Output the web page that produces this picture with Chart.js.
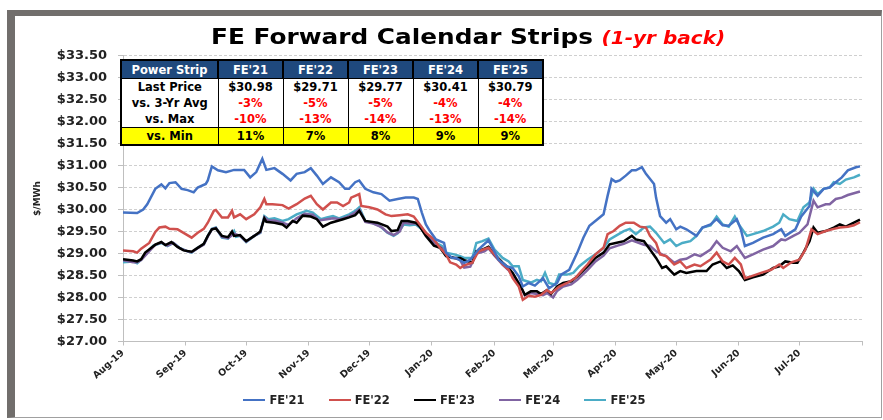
<!DOCTYPE html>
<html>
<head>
<meta charset="utf-8">
<script src="https://cdn.jsdelivr.net/npm/chart.js@4.4.0/dist/chart.umd.min.js"></script>
<style>
  html, body { margin: 0; padding: 0; background: #fff; }
  body { width: 883px; height: 420px; position: relative; overflow: hidden; font-family: "DejaVu Sans", sans-serif; }
  #frame { position: absolute; left: 7px; top: 10px; width: 875px; height: 408px; box-sizing: border-box;
           border-top: 6px solid #716e6c; border-left: 8px solid #716e6c; border-right: 1px solid #a0a0a0; border-bottom: 1px solid #a0a0a0; }
  #chart { position: absolute; left: 15px; top: 16px; }
  #title { position: absolute; left: 211px; top: 25px; white-space: nowrap; transform-origin: left top; transform: scaleX(1.18);
           font: bold 21px "DejaVu Sans", sans-serif; color: #000; }
  #title span { color: #ff0000; font-style: italic; font-size: 17px; }
  #strips { position: absolute; left: 120px; top: 59px; border-collapse: collapse; table-layout: fixed; border: 2px solid #000;
            font: bold 11.5px "DejaVu Sans", sans-serif; background: #fff; }
  #strips td, #strips th { padding: 0; height: 16px; text-align: center; border-left: 1px solid #000; white-space: nowrap; }
  #strips th { background: #1f497d; color: #fff; border-left: 2px solid #000; border-bottom: 1px solid #000; height: 17px; }
  #strips td.neg { color: #ff0000; }
  #strips tr.min td { background: #ffff00; border-top: 1px solid #000; }
  #legend { position: absolute; left: 0; width: 889px; top: 393px; display: flex; justify-content: center;
            font: bold 11.5px "DejaVu Sans", sans-serif; color: #222; }
  #legend .item { display: flex; align-items: center; margin: 0 12px; }
  #legend .swatch { width: 22px; height: 2.5px; margin-right: 4px; }
</style>
</head>
<body>
<div id="frame"></div>
<canvas id="chart" width="866" height="401"></canvas>
<div id="title">FE Forward Calendar Strips <span>(1-yr back)</span></div>
<table id="strips"></table>
<div id="legend"></div>
<script>
// x = days since 1-Aug-2019
const monthStarts = [0, 31, 61, 92, 122, 153, 184, 213, 244, 274, 305, 335, 366];
const monthLabels = ['Aug-19', 'Sep-19', 'Oct-19', 'Nov-19', 'Dec-19', 'Jan-20', 'Feb-20', 'Mar-20', 'Apr-20', 'May-20', 'Jun-20', 'Jul-20', ''];

const seriesNames = ["FE'21", "FE'22", "FE'23", "FE'24", "FE'25"];
const seriesColors = ['#4472c4', '#d0504d', '#000000', '#8064a2', '#4bacc6'];

// table values
const lastPrice = [30.98, 29.71, 29.77, 30.41, 30.79];
const vs3YrAvg = [-3, -5, -5, -4, -4];
const vsMax = [-10, -13, -14, -13, -14];
const vsMin = [11, 7, 8, 9, 9];

const fe21 = [[0,29.93],[7,29.92],[10,30.0],[12,30.12],[16,30.47],[19,30.57],[21,30.48],[23,30.6],[26,30.62],[29,30.47],[32,30.44],[35,30.39],[37,30.5],[41,30.58],[42,30.66],[44,30.98],[47,30.89],[51,30.85],[55,30.9],[60,30.9],[63,30.73],[66,30.85],[69,31.15],[71,30.9],[75,30.94],[79,30.81],[83,30.66],[86,30.81],[90,30.85],[93,30.94],[96,30.77],[99,30.58],[103,30.73],[107,30.62],[110,30.47],[112,30.47],[115,30.62],[117,30.66],[120,30.47],[124,30.39],[128,30.35],[132,30.2],[136,30.24],[140,30.27],[144,30.27],[146,30.24],[148,29.93],[150,29.66],[152,29.51],[155,29.32],[159,29.24],[160,29.02],[163,28.9],[165,28.9],[169,28.79],[172,28.86],[176,29.09],[181,29.3],[183,29.13],[186,28.86],[190,28.71],[193,28.67],[196,28.48],[198,28.25],[201,28.33],[204,28.27],[208,28.44],[211,28.21],[215,28.33],[217,28.52],[221,28.63],[225,29.02],[228,29.36],[231,29.63],[235,29.78],[238,29.89],[240,30.31],[242,30.69],[244,30.63],[246,30.66],[249,30.77],[252,30.89],[254,30.89],[257,30.96],[259,30.81],[263,30.58],[264,30.27],[266,29.85],[269,29.7],[271,29.78],[274,29.55],[276,29.61],[279,29.55],[284,29.4],[287,29.59],[291,29.66],[294,29.78],[297,29.64],[300,29.63],[304,29.78],[306,29.55],[308,29.17],[312,29.24],[317,29.36],[322,29.44],[326,29.55],[328,29.4],[333,29.55],[336,29.85],[340,30.08],[341,30.47],[344,30.31],[347,30.47],[350,30.5],[353,30.62],[356,30.73],[359,30.89],[363,30.96],[365,30.98]];

const fe22 = [[0,29.07],[5,29.05],[7,29.02],[9,29.11],[13,29.24],[16,29.49],[18,29.59],[21,29.61],[23,29.56],[27,29.55],[30,29.47],[34,29.36],[37,29.47],[40,29.56],[42,29.7],[45,29.97],[46,29.99],[49,29.82],[52,29.82],[54,29.97],[55,29.82],[58,29.89],[61,29.78],[65,29.89],[68,30.05],[70,30.24],[71,30.12],[74,30.12],[79,30.1],[82,30.02],[86,30.12],[90,30.25],[93,30.31],[96,30.12],[99,30.0],[103,30.16],[106,30.16],[109,30.08],[112,30.16],[113,30.27],[117,30.35],[118,30.08],[122,30.05],[126,30.0],[130,29.89],[133,29.85],[137,29.87],[141,29.89],[144,29.84],[147,29.66],[150,29.47],[154,29.32],[157,29.13],[160,28.98],[162,28.8],[165,28.75],[167,28.67],[169,28.73],[173,28.79],[176,29.05],[181,29.13],[184,28.98],[188,28.75],[191,28.63],[193,28.44],[196,28.25],[198,27.95],[201,28.04],[204,28.02],[207,28.06],[210,28.17],[212,28.1],[216,28.25],[220,28.33],[224,28.44],[227,28.6],[230,28.75],[234,28.98],[238,29.13],[240,29.44],[243,29.51],[246,29.63],[249,29.7],[253,29.7],[256,29.61],[259,29.59],[261,29.4],[264,29.24],[266,28.98],[269,28.94],[273,28.75],[276,28.82],[279,28.67],[283,28.75],[286,28.71],[291,28.86],[294,29.02],[297,28.82],[300,28.75],[303,28.9],[306,28.75],[308,28.44],[311,28.48],[316,28.56],[321,28.63],[325,28.75],[327,28.67],[331,28.8],[335,28.86],[338,29.09],[341,29.55],[344,29.44],[348,29.51],[352,29.56],[355,29.59],[359,29.61],[362,29.64],[365,29.71]];

const fe23 = [[0,28.87],[5,28.84],[7,28.82],[9,28.87],[11,29.02],[16,29.2],[19,29.26],[21,29.19],[24,29.26],[27,29.15],[30,29.07],[34,29.04],[36,29.1],[40,29.22],[42,29.4],[44,29.55],[46,29.57],[49,29.4],[52,29.37],[54,29.5],[55,29.4],[58,29.42],[61,29.28],[65,29.4],[68,29.5],[70,29.8],[71,29.72],[75,29.7],[79,29.66],[81,29.59],[84,29.74],[86,29.7],[89,29.86],[93,29.84],[96,29.78],[99,29.61],[103,29.7],[106,29.74],[109,29.78],[112,29.82],[115,29.87],[117,29.97],[120,29.74],[126,29.7],[131,29.61],[133,29.51],[136,29.53],[138,29.74],[141,29.74],[145,29.7],[147,29.61],[150,29.4],[154,29.18],[157,29.13],[160,28.94],[164,28.9],[167,28.9],[169,28.85],[173,28.79],[175,29.05],[178,29.09],[181,29.15],[184,28.98],[188,28.79],[191,28.67],[193,28.56],[197,28.25],[199,28.06],[202,28.14],[205,28.14],[207,28.08],[210,28.17],[212,28.08],[215,28.25],[218,28.33],[222,28.37],[225,28.48],[230,28.71],[234,28.9],[238,29.02],[241,29.21],[244,29.24],[248,29.28],[252,29.4],[254,29.32],[258,29.28],[261,29.09],[264,28.9],[267,28.67],[269,28.71],[273,28.52],[276,28.6],[279,28.56],[284,28.6],[289,28.6],[292,28.75],[296,28.82],[299,28.67],[302,28.73],[305,28.6],[308,28.4],[312,28.46],[317,28.52],[322,28.67],[325,28.71],[328,28.82],[332,28.79],[334,28.79],[337,29.02],[340,29.28],[342,29.59],[344,29.47],[348,29.51],[352,29.59],[355,29.66],[358,29.61],[362,29.7],[365,29.77]];

const fe24 = [[0,28.85],[5,28.8],[7,28.8],[9,28.85],[12,29.0],[16,29.2],[19,29.25],[22,29.18],[25,29.24],[28,29.12],[32,29.05],[34,29.03],[37,29.12],[40,29.2],[42,29.38],[44,29.55],[46,29.58],[49,29.38],[52,29.35],[55,29.45],[58,29.4],[61,29.27],[65,29.4],[68,29.48],[70,29.82],[72,29.75],[75,29.75],[79,29.7],[82,29.65],[86,29.8],[90,29.9],[94,29.88],[97,29.75],[101,29.78],[104,29.8],[108,29.78],[112,29.85],[115,29.93],[117,30.0],[120,29.72],[124,29.68],[128,29.6],[131,29.48],[134,29.42],[137,29.5],[139,29.7],[142,29.68],[145,29.68],[148,29.58],[151,29.4],[155,29.2],[158,29.12],[160,28.95],[164,28.9],[167,28.85],[169,28.68],[172,28.7],[175,29.0],[179,29.05],[181,29.12],[184,28.95],[188,28.75],[191,28.62],[193,28.5],[197,28.25],[199,28.05],[202,28.1],[205,28.08],[208,28.05],[210,28.1],[213,28.0],[215,28.15],[218,28.25],[222,28.3],[225,28.4],[230,28.62],[234,28.82],[238,28.95],[241,29.12],[245,29.18],[248,29.22],[252,29.3],[255,29.25],[258,29.2],[261,29.17],[264,29.05],[267,28.98],[269,28.94],[273,28.79],[276,28.86],[279,28.88],[283,28.98],[286,28.94],[291,29.09],[294,29.28],[297,29.13],[301,29.05],[304,29.17],[308,28.9],[312,28.98],[317,29.09],[322,29.17],[326,29.32],[328,29.3],[332,29.4],[335,29.47],[339,29.66],[342,30.2],[344,30.05],[348,30.12],[350,30.12],[353,30.24],[356,30.27],[359,30.33],[365,30.41]];

const fe25 = [[0,28.8],[5,28.82],[7,28.78],[9,28.86],[12,29.02],[15,29.18],[19,29.24],[22,29.17],[25,29.24],[28,29.13],[32,29.05],[34,29.02],[37,29.13],[40,29.21],[42,29.4],[44,29.56],[46,29.59],[49,29.36],[52,29.34],[55,29.51],[56,29.38],[58,29.4],[61,29.26],[65,29.4],[68,29.47],[70,29.85],[72,29.78],[75,29.8],[79,29.74],[82,29.78],[86,29.89],[91,29.97],[94,29.93],[98,29.78],[101,29.82],[104,29.85],[107,29.8],[112,29.89],[115,29.97],[117,30.05],[120,29.74],[123,29.7],[127,29.63],[131,29.47],[134,29.4],[136,29.46],[139,29.66],[142,29.64],[145,29.66],[148,29.55],[151,29.4],[155,29.24],[158,29.17],[160,29.02],[164,28.98],[167,28.94],[169,28.9],[173,28.9],[175,29.24],[178,29.28],[181,29.34],[184,29.09],[188,28.9],[191,28.82],[193,28.71],[196,28.71],[198,28.4],[202,28.34],[205,28.4],[207,28.37],[209,28.56],[211,28.33],[214,28.29],[216,28.52],[220,28.52],[223,28.56],[226,28.71],[230,28.86],[234,28.98],[238,29.13],[241,29.32],[244,29.4],[248,29.51],[251,29.56],[254,29.44],[258,29.59],[261,29.61],[264,29.47],[268,29.24],[271,29.32],[274,29.17],[277,29.24],[281,29.28],[284,29.4],[287,29.59],[291,29.64],[294,29.84],[297,29.66],[300,29.61],[303,29.84],[305,29.66],[309,29.4],[312,29.44],[317,29.51],[322,29.61],[325,29.7],[327,29.89],[330,29.78],[334,29.74],[337,30.05],[340,30.16],[342,30.47],[344,30.35],[347,30.47],[350,30.5],[352,30.62],[355,30.58],[358,30.68],[362,30.73],[365,30.79]];

const seriesData = [fe21, fe22, fe23, fe24, fe25];

// ---- table ----
const table = document.getElementById('strips');
const pct = v => v + '%';
let html = '<colgroup><col style="width:97px">' + seriesNames.map(() => '<col style="width:65px">').join('') + '</colgroup>';
html += '<tr><th style="border-left:none">Power Strip</th>' + seriesNames.map(n => `<th>${n}</th>`).join('') + '</tr>';
html += '<tr><td style="border-left:none">Last Price</td>' + lastPrice.map(v => `<td>$${v.toFixed(2)}</td>`).join('') + '</tr>';
html += '<tr><td style="border-left:none">vs. 3-Yr Avg</td>' + vs3YrAvg.map(v => `<td class="neg">${pct(v)}</td>`).join('') + '</tr>';
html += '<tr><td style="border-left:none">vs. Max</td>' + vsMax.map(v => `<td class="neg">${pct(v)}</td>`).join('') + '</tr>';
html += '<tr class="min"><td style="border-left:none">vs. Min</td>' + vsMin.map(v => `<td>${pct(v)}</td>`).join('') + '</tr>';
table.innerHTML = html;

// ---- chart ----
const tickFont = { family: 'DejaVu Sans', weight: 'bold', size: 13 };
const ctx = document.getElementById('chart').getContext('2d');
const chart = new Chart(ctx, {
  type: 'line',
  data: {
    datasets: seriesNames.map((name, i) => ({
      label: name,
      data: seriesData[i].map(([x, y]) => ({ x, y })),
      borderColor: seriesColors[i],
      backgroundColor: seriesColors[i],
      borderWidth: 2.5,
      pointRadius: 0,
      tension: 0
    }))
  },
  options: {
    responsive: false,
    animation: false,
    devicePixelRatio: 1,
    layout: { padding: { left: 0, right: 19, top: 39.5, bottom: 35.5 } },
    plugins: { legend: { display: false }, title: { display: false }, tooltip: { enabled: false } },
    scales: {
      x: {
        type: 'linear',
        min: 0,
        max: 366,
        afterBuildTicks: s => { s.ticks = monthStarts.map(v => ({ value: v })); },
        afterFit: s => { s.height = 40; },
        ticks: {
          autoSkip: false,
          maxRotation: 42,
          minRotation: 42,
          padding: 2,
          color: '#222',
          font: { family: 'DejaVu Sans', weight: 'bold', size: 9.5 },
          callback: v => monthLabels[monthStarts.indexOf(v)] || ''
        },
        grid: { drawOnChartArea: false, drawTicks: true, tickLength: 4, color: '#bfbfbf' },
        border: { color: '#bfbfbf', width: 1 }
      },
      y: {
        min: 27,
        max: 33.5,
        afterFit: s => { s.width = 108; },
        ticks: {
          stepSize: 0.5,
          padding: 11,
          color: '#222',
          font: tickFont,
          callback: v => '$' + Number(v).toFixed(2)
        },
        grid: { color: '#cfcfcf', tickLength: 5, tickColor: '#bfbfbf', tickBorderDash: [] },
        border: { color: '#bfbfbf', width: 1, dash: [3, 2] },
        title: { display: true, text: '$/MWh', color: '#222', padding: { top: 17, bottom: 0 },
                 font: { family: 'DejaVu Sans', weight: 'bold', size: 9 } }
      }
    }
  }
});

// ---- legend ----
const legend = document.getElementById('legend');
chart.data.datasets.forEach(ds => {
  const item = document.createElement('div');
  item.className = 'item';
  item.innerHTML = `<span class="swatch" style="background:${ds.borderColor}"></span><span>${ds.label}</span>`;
  legend.appendChild(item);
});
</script>
</body>
</html>
